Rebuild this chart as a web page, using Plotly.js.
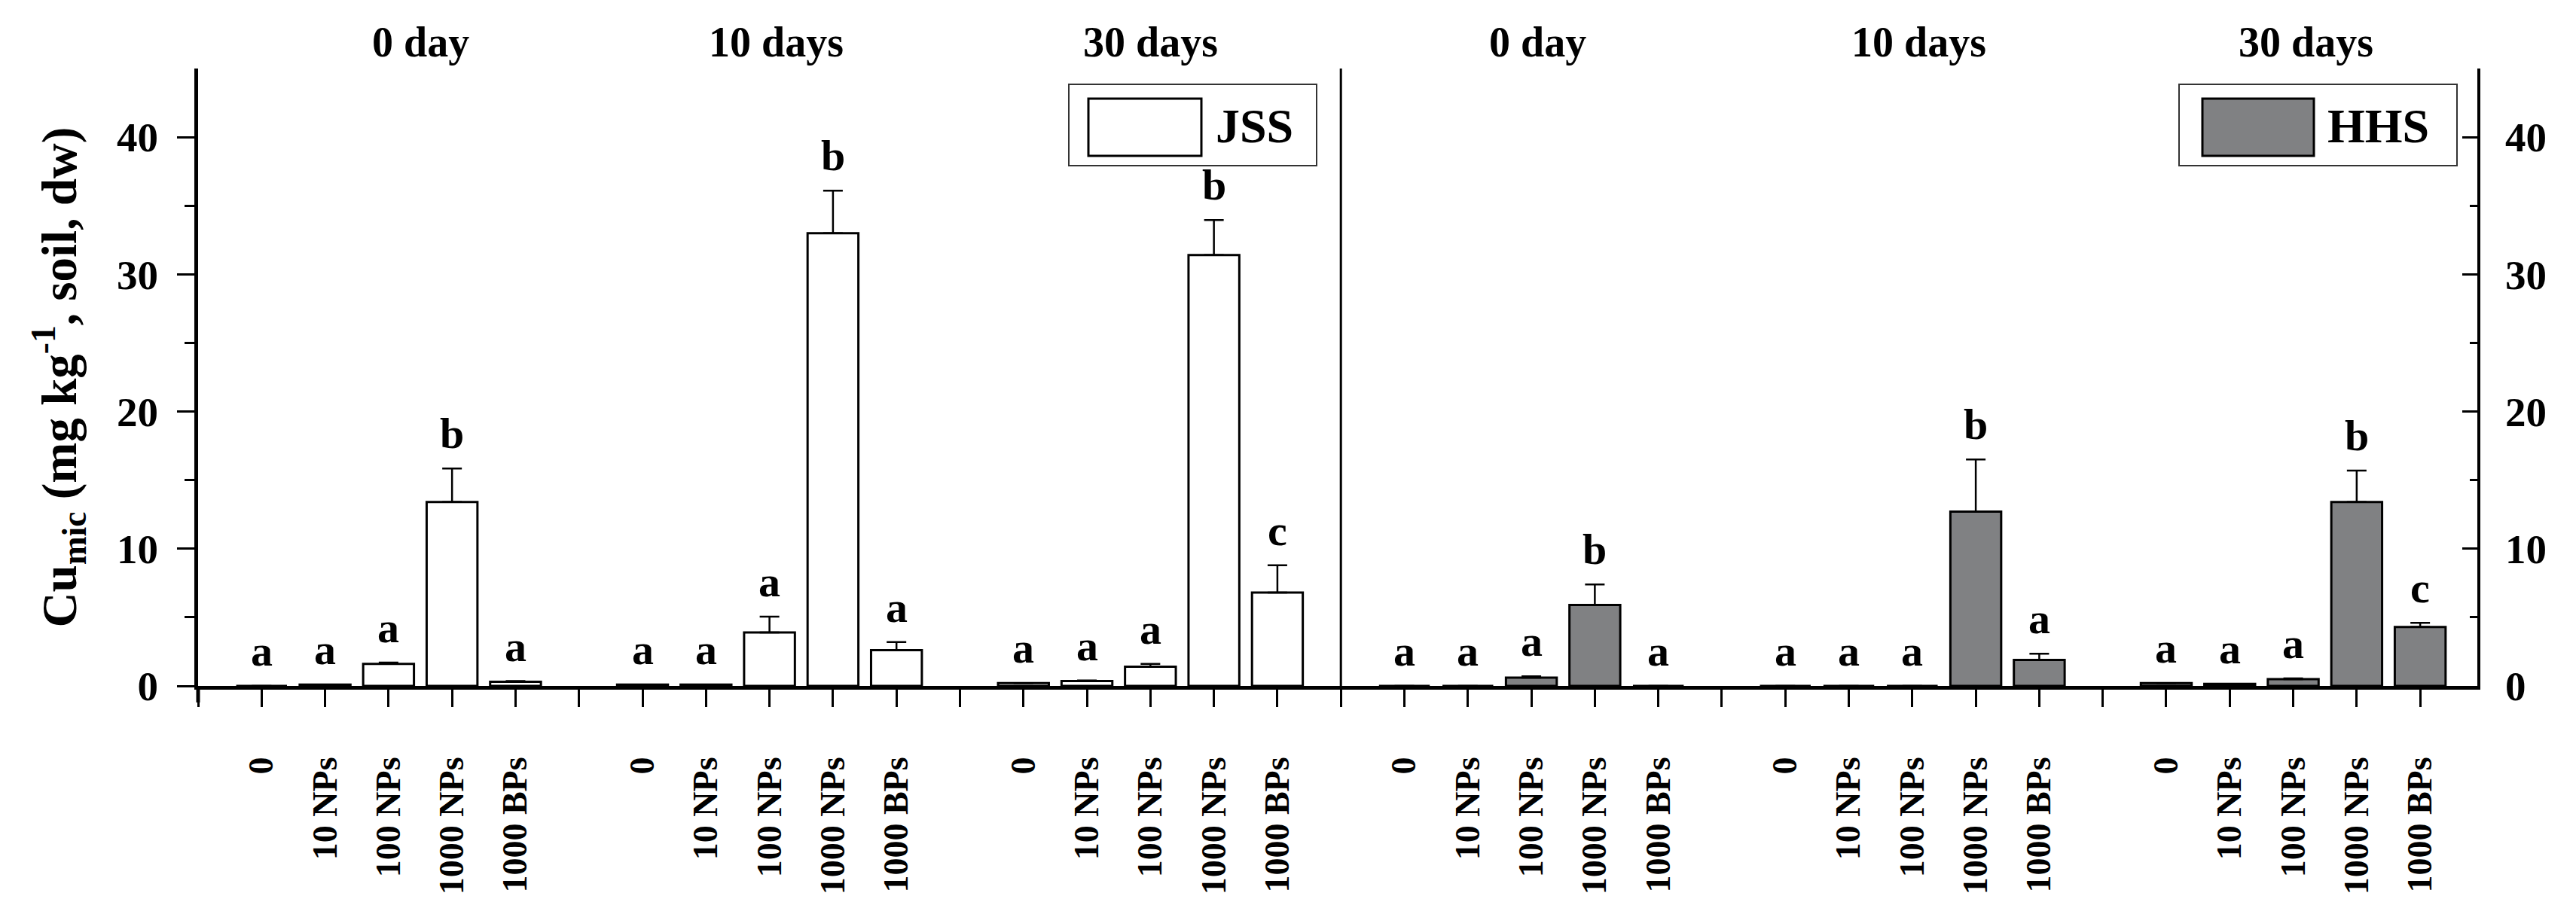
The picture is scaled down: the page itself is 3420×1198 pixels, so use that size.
<!DOCTYPE html>
<html>
<head>
<meta charset="utf-8">
<script src="https://cdn.plot.ly/plotly-3.0.1.min.js"></script>
<style>html,body{margin:0;padding:0;background:#fff;}#chart{width:3420px;height:1198px;}</style>
</head>
<body>
<div id="chart"></div>
<script>
// ---- data ----
const soils = ['JSS', 'HHS'];
const periods = ['0 day', '10 days', '30 days'];
const treatments = ['0', '10 NPs', '100 NPs', '1000 NPs', '1000 BPs'];

const jssMean = [0, 0.1, 1.6, 13.4, 0.3,   0.1, 0.1, 3.9, 33.0, 2.6,   0.2, 0.35, 1.4, 31.4, 6.8];
const jssErr  = [0, 0, 0.1, 2.45, 0.05,    0, 0, 1.15, 3.1, 0.6,       0, 0.05, 0.2, 2.55, 2.0];
const jssLetters = ['a','a','a','b','a',  'a','a','a','b','a',  'a','a','a','b','c'];

const hhsMean = [0, 0, 0.6, 5.9, 0,   0, 0, 0, 12.7, 1.9,   0.2, 0.15, 0.5, 13.4, 4.3];
const hhsErr  = [0, 0, 0.1, 1.5, 0,   0, 0, 0, 3.8, 0.45,   0, 0, 0.05, 2.3, 0.3];
const hhsLetters = ['a','a','a','b','a',  'a','a','a','b','a',  'a','a','a','b','c'];

const yTitle = 'Cu<sub>mic</sub> (mg kg<sup>-1</sup>, soil, dw)';

// ---- layout helpers ----
const FONT = 'Liberation Serif, Times New Roman, serif';
const nT = treatments.length, nP = periods.length;
const slotsPerSoil = nP * (nT + 1);          // 18
function slot(s, p, t) { return s * slotsPerSoil + p * (nT + 1) + t + 1; }
function positions(s) {
  const xs = [];
  for (let p = 0; p < nP; p++) for (let t = 0; t < nT; t++) xs.push(slot(s, p, t));
  return xs;
}
const jssX = positions(0), hhsX = positions(1);

// labelled ticks at bar positions; plain ticks at every slot
const tickvals = [], ticktext = [];
for (let s = 0; s < soils.length; s++)
  for (let p = 0; p < nP; p++)
    for (let t = 0; t < nT; t++) { tickvals.push(slot(s, p, t)); ticktext.push(treatments[t]); }
const totalSlots = soils.length * slotsPerSoil;
const allSlots = [];
for (let i = 0; i < totalSlots; i++) allSlots.push(i);
const xRange = [0, totalSlots - 0.1];

const traces = [
  {
    type: 'bar', name: soils[0], x: jssX, y: jssMean, width: 0.8,
    xaxis: 'x', yaxis: 'y',
    marker: { color: '#ffffff', line: { color: '#000', width: 3 } },
    error_y: { type: 'data', symmetric: false, array: jssErr, arrayminus: jssErr.map(() => 0),
               color: '#000', thickness: 2.5, width: 13 },
    showlegend: false, hoverinfo: 'x+y'
  },
  {
    type: 'bar', name: soils[1], x: hhsX, y: hhsMean, width: 0.8,
    xaxis: 'x', yaxis: 'y2',
    marker: { color: 'rgb(128,129,131)', line: { color: '#000', width: 3 } },
    error_y: { type: 'data', symmetric: false, array: hhsErr, arrayminus: hhsErr.map(() => 0),
               color: '#000', thickness: 2.5, width: 13 },
    showlegend: false, hoverinfo: 'x+y'
  }
];

const annotations = [];
function addLetters(xs, mean, err, letters, yref) {
  for (let i = 0; i < xs.length; i++) {
    annotations.push({
      x: xs[i], y: mean[i] + err[i], xref: 'x', yref: yref,
      text: letters[i], showarrow: false, yanchor: 'bottom', yshift: 12,
      font: { family: FONT, size: 58, color: '#000', weight: 'bold' }
    });
  }
}
addLetters(jssX, jssMean, jssErr, jssLetters, 'y');
addLetters(hhsX, hhsMean, hhsErr, hhsLetters, 'y2');

// period titles on top
const titleShift = [0.5, 0.1, 0, 0.1, 0.1, 0.2];
let k = 0;
for (let s = 0; s < soils.length; s++) {
  for (let p = 0; p < nP; p++) {
    annotations.push({
      x: slot(s, p, 2) + titleShift[k++], y: 1, xref: 'x', yref: 'paper',
      text: periods[p], showarrow: false, yanchor: 'bottom', yshift: 2,
      font: { family: FONT, size: 56, color: '#000', weight: 'bold' }
    });
  }
}

// legend (drawn as boxes)
const plotL = 263, plotR = 3289, plotT = 91, plotB = 911;
const px = v => (v - plotL) / (plotR - plotL);
const py = v => (plotB - v) / (plotB - plotT);
const shapes = [];
const legends = [
  { name: soils[0], fill: '#ffffff', box: [1419, 1748], sw: [1445, 1595], tx: 1612 },
  { name: soils[1], fill: 'rgb(128,129,131)', box: [2893, 3262], sw: [2924, 3072], tx: 3088 }
];
legends.forEach(L => {
  shapes.push({ type: 'rect', xref: 'paper', yref: 'paper', x0: px(L.box[0]), x1: px(L.box[1]),
    y0: py(220), y1: py(112), line: { color: '#333', width: 2 }, fillcolor: 'rgba(0,0,0,0)' });
  shapes.push({ type: 'rect', xref: 'paper', yref: 'paper', x0: px(L.sw[0]), x1: px(L.sw[1]),
    y0: py(207), y1: py(131), line: { color: '#000', width: 3 }, fillcolor: L.fill });
  annotations.push({ x: px(L.tx), y: py(168), xref: 'paper', yref: 'paper', text: L.name,
    showarrow: false, xanchor: 'left', yanchor: 'middle',
    font: { family: FONT, size: 64, color: '#000', weight: 'bold' } });
});

// separator between soils
shapes.push({ type: 'line', xref: 'x', yref: 'paper', x0: slotsPerSoil, x1: slotsPerSoil, y0: 0, y1: 1,
  line: { color: '#000', width: 3 } });
// left axis extends below zero line
shapes.push({ type: 'line', xref: 'paper', yref: 'paper', x0: 0, x1: 0, y0: 0, y1: -22 / (plotB - plotT),
  line: { color: '#000', width: 5 } });

const tickFont = { family: FONT, size: 55, color: '#000', weight: 'bold' };

const layout = {
  width: 3420, height: 1198,
  margin: { l: plotL, r: 3420 - plotR, t: plotT, b: 1198 - plotB, pad: 0 },
  paper_bgcolor: '#fff', plot_bgcolor: '#fff',
  barmode: 'overlay',
  showlegend: false,
  xaxis: {
    range: xRange, tickmode: 'array', tickvals: tickvals, ticktext: ticktext,
    tickangle: -90, ticks: 'outside', ticklen: 23, tickwidth: 3, tickcolor: '#000',
    minor: { tickmode: 'array', tickvals: allSlots, ticks: 'outside', ticklen: 23, tickwidth: 3, tickcolor: '#000' },
    ticklabelstandoff: 48,
    tickfont: { family: FONT, size: 46, color: '#000', weight: 'bold' },
    showline: true, linewidth: 5, linecolor: '#000', showgrid: false, zeroline: false
  },
  xaxis2: {
    overlaying: 'x', side: 'top', range: xRange, tickmode: 'array',
    tickvals: [6, 12, 24, 30], ticks: 'inside', ticklen: 20, tickwidth: 3, tickcolor: '#000',
    showticklabels: false, showline: true, linewidth: 4, linecolor: '#000',
    showgrid: false, zeroline: false
  },
  yaxis: {
    range: [0, 45], tickmode: 'array', tickvals: [0, 10, 20, 30, 40],
    ticks: 'outside', ticklen: 23, tickwidth: 3, tickcolor: '#000',
    minor: { tickmode: 'array', tickvals: [5, 15, 25, 35], ticks: 'outside', ticklen: 13, tickwidth: 3, tickcolor: '#000' },
    ticklabelstandoff: 14, tickfont: tickFont,
    showline: true, linewidth: 5, linecolor: '#000', showgrid: false, zeroline: false,
    title: { text: yTitle, standoff: 34, font: { family: FONT, size: 65, color: '#000', weight: 'bold' } }
  },
  yaxis2: {
    overlaying: 'y', side: 'right', range: [0, 45], tickmode: 'array', tickvals: [0, 10, 20, 30, 40],
    ticks: 'inside', ticklen: 20, tickwidth: 3, tickcolor: '#000',
    minor: { tickmode: 'array', tickvals: [5, 15, 25, 35], ticks: 'inside', ticklen: 10, tickwidth: 3, tickcolor: '#000' },
    ticklabelstandoff: 22, tickfont: tickFont,
    showline: true, linewidth: 4, linecolor: '#000', showgrid: false, zeroline: false
  },
  shapes: shapes,
  annotations: annotations
};

Plotly.newPlot('chart', traces, layout, { staticPlot: true, displayModeBar: false });
</script>
</body>
</html>
